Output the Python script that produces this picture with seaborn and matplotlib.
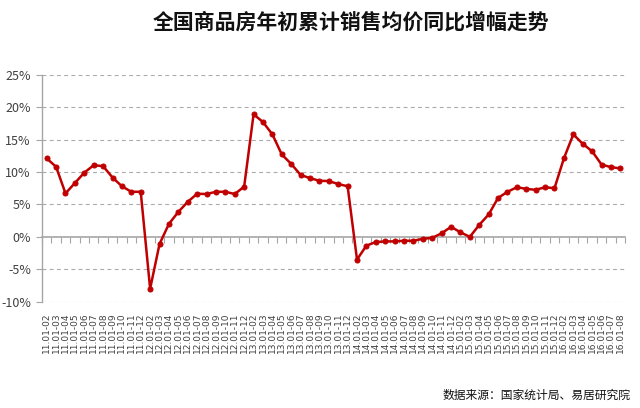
import numpy as np
import pandas as pd
import matplotlib
matplotlib.use("Agg")
import matplotlib.pyplot as plt
import seaborn as sns

years = ["11", "12", "13", "14", "15"]
months = ["02", "03", "04", "05", "06", "07", "08", "09", "10", "11", "12"]
labels = [f"{y}.01-{m}" for y in years for m in months] + \
         [f"16.01-{m}" for m in ["02", "03", "04", "05", "06", "07", "08"]]

values = [12.1, 10.8, 6.7, 8.3, 9.9, 11.05, 10.9, 9.15, 7.8, 6.95, 6.95,
          -8.0, -1.1, 2.0, 3.85, 5.4, 6.65, 6.6, 6.95, 6.95, 6.6, 7.75,
          18.9, 17.7, 15.8, 12.7, 11.25, 9.55, 9.05, 8.65, 8.6, 8.15, 7.8,
          -3.5, -1.35, -0.8, -0.7, -0.7, -0.6, -0.6, -0.3, -0.15, 0.55,
          1.55, 0.7, 0.0, 1.85, 3.45, 6.0, 6.95, 7.65, 7.4, 7.25, 7.65, 7.5,
          12.1, 15.8, 14.35, 13.2, 11.15, 10.75, 10.55]

yticks = [-10, -5, 0, 5, 10, 15, 20, 25]
title = "全国商品房年初累计销售均价同比增幅走势"
source = "数据来源：国家统计局、易居研究院"

sns.set_style("white")
plt.rcParams["font.family"] = ["Noto Sans CJK SC", "DejaVu Sans"]

df = pd.DataFrame({"idx": np.arange(len(labels)), "val": values})

fig = plt.figure(figsize=(6.4, 4.08), dpi=100)
ax = fig.add_axes([0.0656, 0.2605, 0.911, 0.5564])

line_color = "#C00000"
sns.lineplot(data=df, x="idx", y="val", ax=ax, color=line_color, linewidth=1.8,
             marker="o", markersize=3.6, markeredgecolor=line_color,
             markerfacecolor=line_color)

ax.set_xlim(-0.5, len(labels) - 0.5)
ax.set_ylim(-10, 25)
ax.set_yticks(yticks)
ax.set_yticklabels([f"{v}%" for v in yticks], fontsize=9, color="#404040")
ax.set_xticks(df["idx"])
ax.set_xticklabels(labels, rotation=90, fontsize=6.5, color="#404040",
                   family="DejaVu Sans")
ax.tick_params(axis="x", length=0, pad=8)
ax.tick_params(axis="y", length=4, color="#A6A6A6", direction="out", pad=4, left=True)
ax.set_xlabel("")
ax.set_ylabel("")

for s in ["top", "right", "bottom"]:
    ax.spines[s].set_visible(False)
ax.spines["left"].set_color("#A6A6A6")
ax.spines["left"].set_linewidth(1.0)

for v in yticks:
    if v != 0:
        ax.axhline(v, color="#ABABAB", linewidth=0.8, linestyle=(0, (3.5, 3)), zorder=0)

# zero axis with category boundary ticks
sec = ax.secondary_xaxis(10 / 35)
sec.set_xticks(np.arange(len(labels) + 1) - 0.5)
sec.set_xticklabels([])
sec.tick_params(length=4, color="#A6A6A6", direction="out")
sec.spines["bottom"].set_color("#A6A6A6")
sec.spines["bottom"].set_linewidth(1.2)

fig.text(0.549, 0.945, title, ha="center", va="center", fontsize=15,
         fontweight="bold", color="#111111")
fig.text(0.985, 0.032, source, ha="right", va="center", fontsize=8.5,
         color="#111111")

fig.savefig("out.png", dpi=100)
